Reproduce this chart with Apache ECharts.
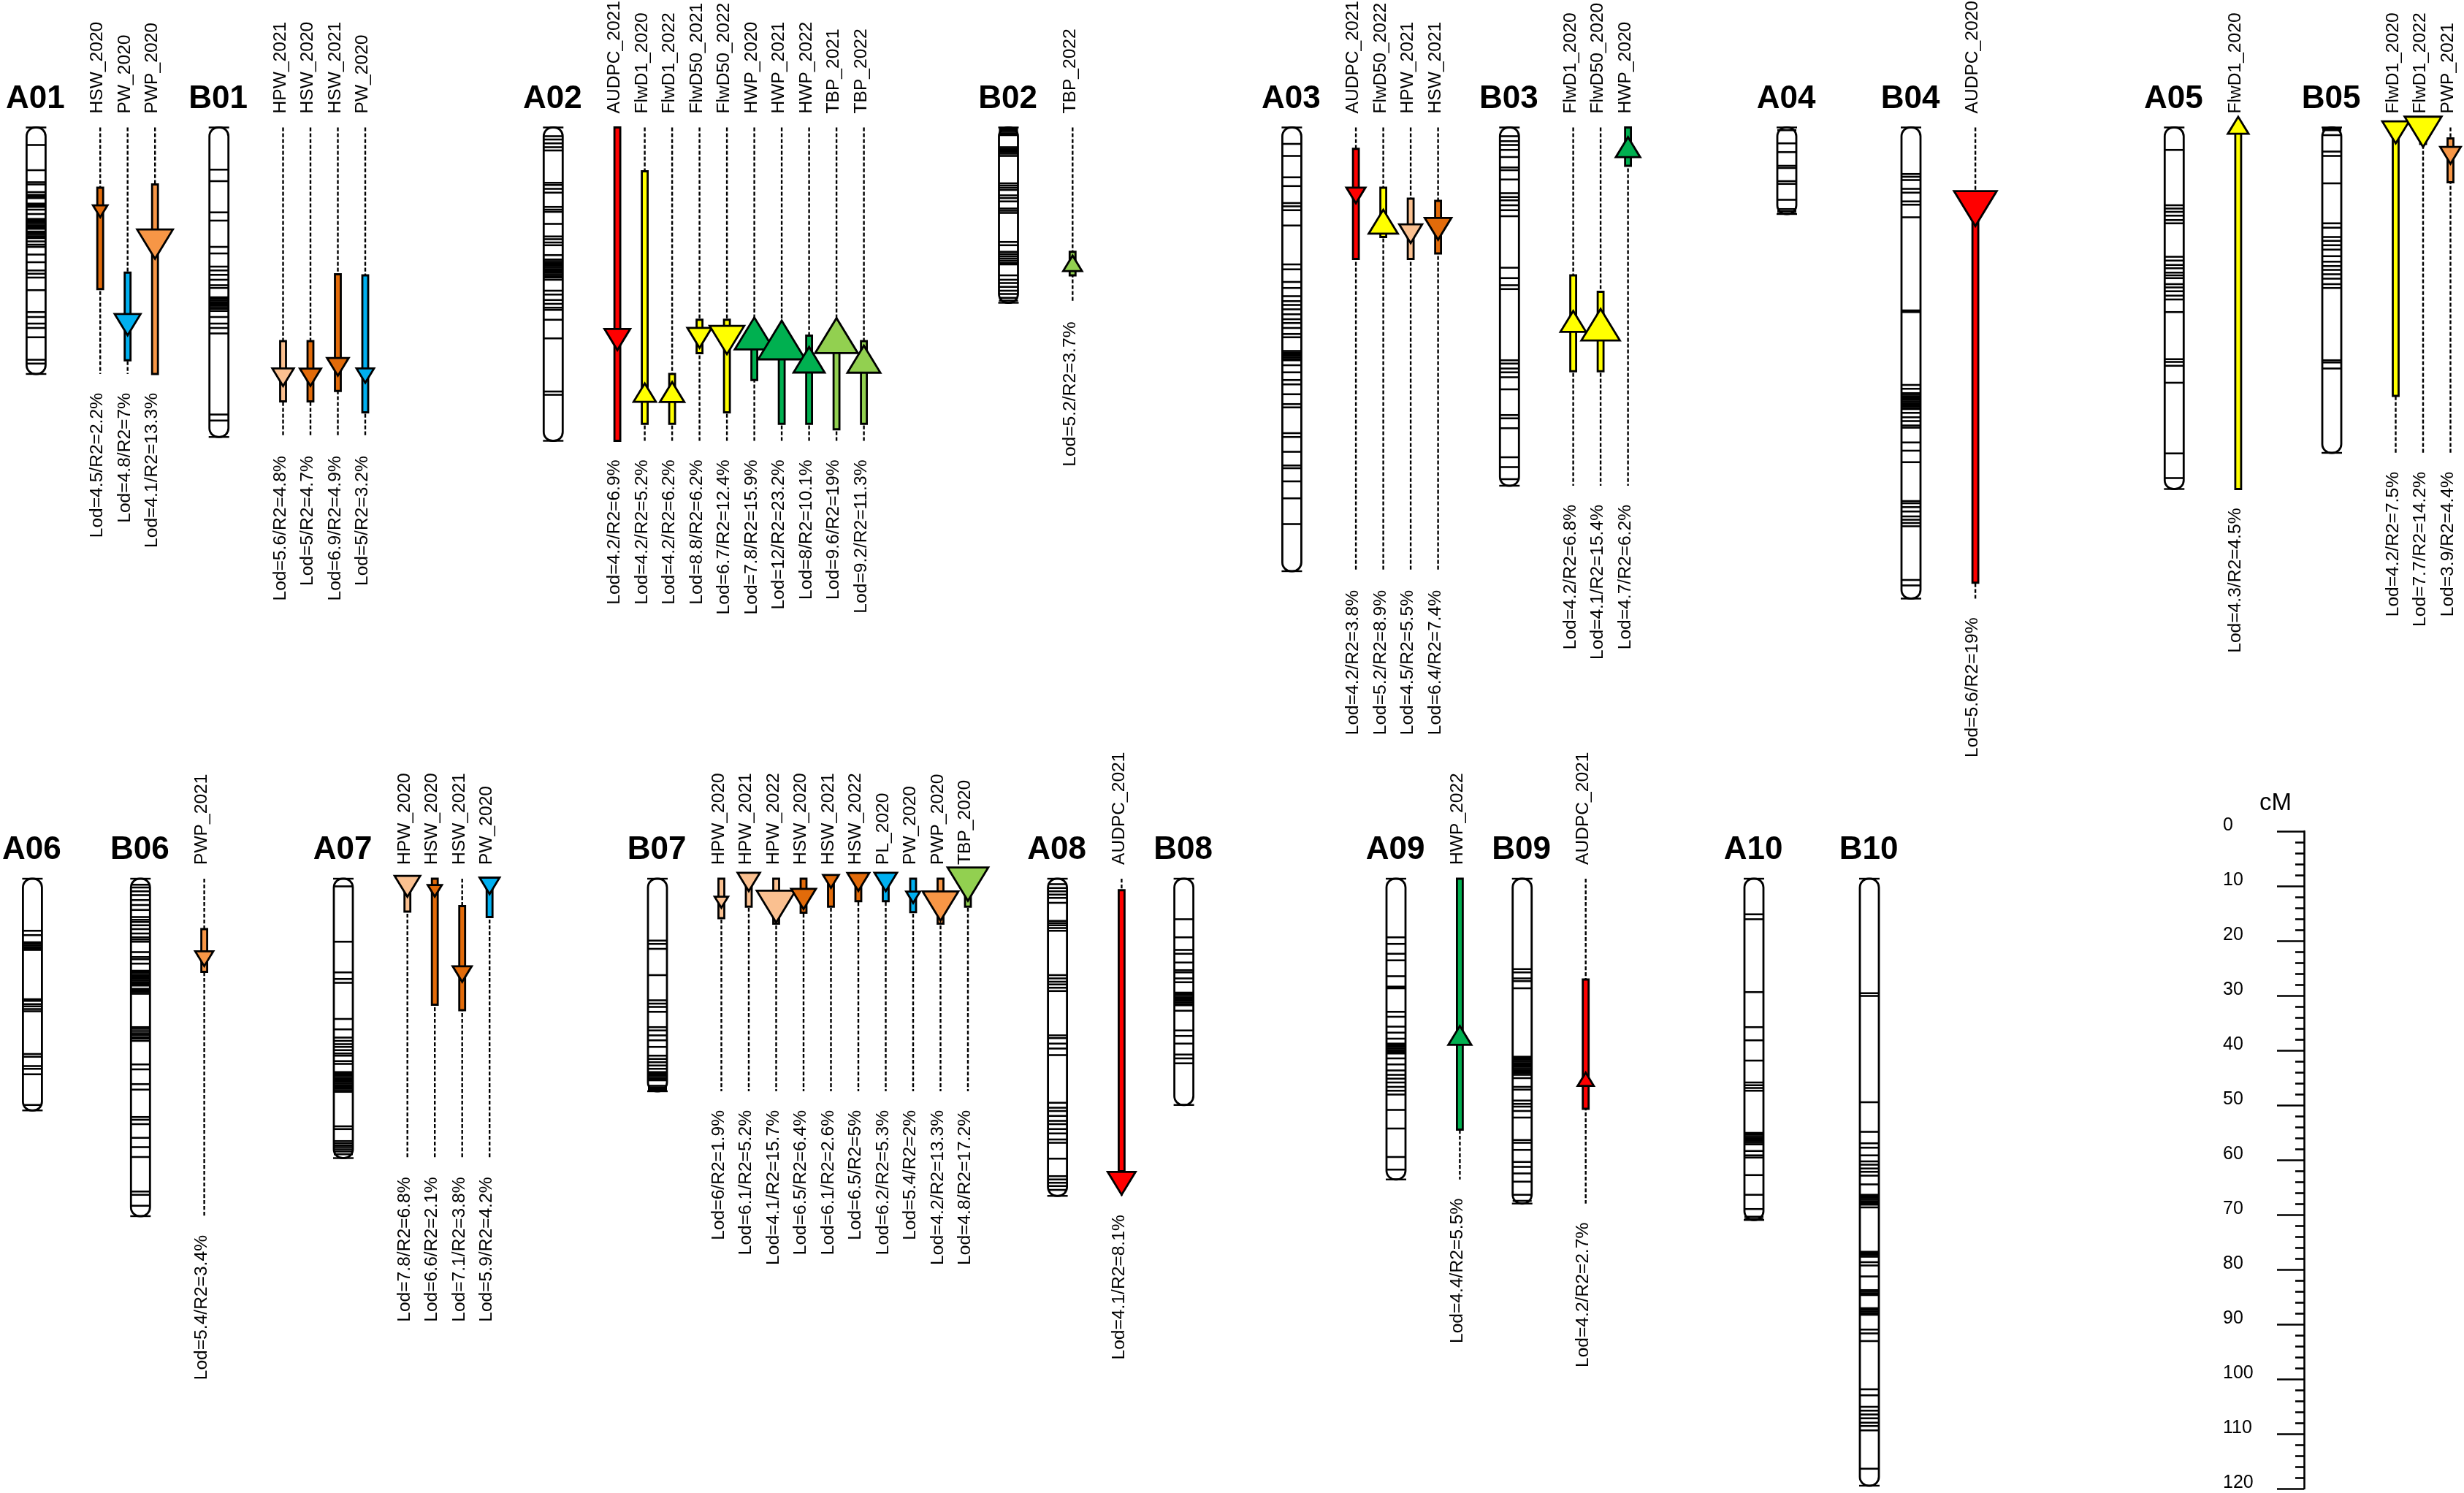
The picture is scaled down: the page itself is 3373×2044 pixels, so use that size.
<!DOCTYPE html>
<html>
<head>
<meta charset="utf-8">
<title>QTL map</title>
<style>
html, body { margin: 0; padding: 0; background: #fff; }
#chart { width: 3373px; height: 2044px; }
</style>
<script src="https://cdn.jsdelivr.net/npm/echarts@6/dist/echarts.min.js"></script>
</head>
<body>
<div id="chart"></div>
<script>
// chromosomes, first ten on the upper row, the rest on the lower row
var chromNames = ['A01','B01','A02','B02','A03','B03','A04','B04','A05','B05',
                  'A06','B06','A07','B07','A08','B08','A09','B09','A10','B10'];
var chromLengths = [45,56.5,57.2,32,81,65.4,15.8,86,66,59.4,
                    42.3,61.6,51,38.8,57.9,41.3,54.9,59.3,62.3,110.8];

// marker positions (cM)
var markersA01 = [3.2,7.8,10,10.4,11.8,12.3,12.6,12.9,13.9,14.2,14.5,15,15.8,16.7,17,17.3,17.6,17.9,18.2,18.5,19,19.3,19.6,19.9,20.2,20.8,21.4,21.8,23.2,24.6,26.1,26.7,27.4,29.7,33.7,34.6,35.8,36.6,38.3,42.4,43.1];
var markersB01 = [7.7,9.8,15.5,17,21.8,23,25.4,26.1,26.9,27.8,28.8,29.3,31,31.3,31.6,31.9,32.2,32.5,32.8,33.1,33.5,34.6,35.8,36.6,37.6,52.4,53.5];
var markersA02 = [1.6,2.2,2.9,3.6,4.2,10.1,10.5,11.2,11.9,14.5,15,15.4,17.6,19.9,20.4,21,21.5,23.3,24.1,24.4,24.7,25,25.3,25.6,25.9,26.2,26.5,26.8,27.1,27.4,27.8,29.8,30.5,31.5,32.2,32.9,33.3,35.1,38.5,48.2,48.8];
var markersB02 = [0.2,0.5,0.8,1.1,1.4,3.6,3.9,4.2,4.5,4.8,5.2,10.2,10.6,11,11.4,12.4,12.9,13.5,14.8,15.2,15.6,20.9,21.5,22.7,23.1,23.5,23.9,24.3,24.7,25,27,27.8,28.4,29.1,29.8,30.4,31.1,31.6];
var markersA03 = [3,5.2,9.1,10.7,13.8,14.4,15.1,17.9,25,25.9,28.2,29.3,30.8,31.7,32.4,33.2,34.1,35,35.7,36.6,37.7,38.3,40.8,41.1,41.4,41.7,42,42.3,42.5,43.4,44.7,46.1,46.9,48.7,50.5,51.1,55.8,56.5,59.2,61.7,62.2,64.6,67.7,72.4];
var markersB03 = [1.6,2.5,3.2,4.1,5.4,7.3,7.8,9.5,12,12.7,13.3,14.2,15.1,16.2,25.6,27.5,28.8,29.5,42.5,43.1,44,44.7,45.6,47.8,52.5,53.1,54.9,60.2,62,64.2];
var markersA04 = [0.5,2.9,4.5,7,7.4,9.8,10.3,13.2,14.9,15.3,15.7];
var markersB04 = [8.5,9,9.6,11.2,11.9,13.5,14.1,16.4,33.4,33.7,47,47.7,48.5,48.8,49.1,49.4,49.7,50,50.3,50.6,50.9,51.2,51.4,52.1,52.9,53.6,54.4,54.8,57.5,59,61.1,68.2,68.6,69.3,70.1,71,71.6,72.2,72.8,82.6,83.6];
var markersA05 = [4.1,14.2,14.8,15.4,16.1,16.9,17.5,23.6,24.3,25.1,25.7,26.5,27,27.5,28.6,29.2,29.9,30.7,31.4,33.7,42.3,42.8,43.5,46.6,59.5,64];
var markersB05 = [0.2,0.5,1.4,4.4,5.2,10.2,17.5,18.3,20,20.7,21.5,22.3,23.5,24.5,25.3,26,26.8,27.6,28.6,29.3,42.5,42.9,44];
var markersA06 = [9.5,10.3,11.6,11.9,12.2,12.5,12.8,13,22,22.3,22.9,23.3,23.8,24.2,32,32.5,34.2,34.7,35.7,41.3];
var markersB06 = [1.1,1.6,2.3,3,3.9,4.8,5.7,7,7.5,7.9,8.5,9.2,10,10.7,11.1,11.5,13.4,14.3,14.7,15.5,16.8,17.1,17.4,17.7,18,18.3,18.6,18.9,19.2,19.5,20.1,20.4,20.7,21,27.1,27.4,27.8,28.2,28.5,28.9,29.2,29.6,33.9,34.8,37.5,38.5,43.5,44,44.8,47.3,49,50.8,57.1,57.7,59.7];
var markersA07 = [1.4,11.5,17.1,18.3,19,25.6,27.5,29,29.6,30.2,30.7,31.3,31.9,32.3,33.3,33.8,35.3,35.6,35.9,36.2,36.5,36.8,37.1,37.4,37.7,38,38.3,38.6,38.9,45.2,45.7,47.9,48.3,48.7,49,49.4,49.8,50.3];
var markersB07 = [11.3,11.9,12.8,17.6,22.2,22.8,23.4,24.3,27.1,27.7,28.6,29.5,30.7,32.3,32.9,33.5,34.1,34.7,35.3,35.6,35.9,36.2,36.5,36.8,37.8,38.1,38.4,38.7];
var markersA08 = [1,1.7,2.3,2.9,3.5,4.4,7.7,8.1,8.5,9,9.5,17.6,18.2,18.8,19.3,19.9,20.5,28.6,29.1,30.1,31,32.2,40.9,41.8,42.4,43.3,44.2,44.8,45.7,46.5,47.6,48.2,51.1,54.3,54.9,55.5,56.1,56.8];
var markersB08 = [7.4,10.7,13,13.7,15.3,16.7,17.1,18.2,18.9,20.8,21.1,21.4,21.7,22,22.3,22.6,22.9,23.1,24.1,27.7,28.7,30.1,32.1,32.8,33.7];
var markersA09 = [10.7,11.9,13.7,14.9,17.8,19.7,20,24.3,25.2,27,28.1,29.2,30.1,30.4,30.7,31,31.3,31.6,31.9,32.8,33.9,35,35.8,36.5,37.2,38,38.7,39.4,42.2,45.6,50.8,53.1];
var markersB09 = [16.5,17.1,18.2,18.7,20,32.5,32.8,33.1,33.4,33.7,34,34.3,34.6,34.9,35.2,35.5,35.8,36.4,38,38.5,40.5,41.1,41.6,42.4,43.6,47.7,48.2,49.5,51.7,52.6,53.8,55.3,57.7,58.8];
var markersA10 = [6.5,7.4,20.7,27.1,29.5,33.2,37.2,37.7,38.2,38.7,46.4,46.7,47,47.3,47.6,47.9,48.2,48.5,49.7,50.5,50.9,54.1,57.7,60.3,61.7,62.1];
var markersB10 = [20.9,21.4,40.8,46.2,48.3,49.1,50.5,51.6,52.2,52.9,53.5,54.2,55.8,57.7,58,58.3,58.6,58.9,59.2,59.5,60,68.1,68.4,68.7,69,70,70.6,72.6,75.1,75.4,75.7,76,78.4,78.7,79,79.3,79.6,82.3,83,84.4,93.2,94.3,96.4,97.1,97.8,98.5,99.3,99.9,100.7,107.7];

// QTL rows: trait, interval start, interval end, peak, direction (1 up, -1 down), LOD, R2
var qtlA01 = [['HSW_2020',11,29.5,15.3,-1,4.5,2.2],['PW_2020',26.5,42.5,36,-1,4.8,7],['PWP_2020',10.4,45,21.3,-1,4.1,13.3]];
var qtlB01 = [['HPW_2021',39,50,45.6,-1,5.6,4.8],['HSW_2020',39,50,45.6,-1,5,4.7],['HSW_2021',26.8,48.1,43.7,-1,6.9,4.9],['PW_2020',27,52,45.3,-1,5,3.2]];
var qtlA02 = [['AUDPC_2021',0,57.2,38.7,-1,4.2,6.9],['FlwD1_2020',8,54.1,48.4,1,4.2,5.2],['FlwD1_2022',45,54.1,48.3,1,4.2,6.2],
              ['FlwD50_2021',35.1,41.2,38.4,-1,8.8,6.2],['FlwD50_2022',35.1,52,38.8,-1,6.7,12.4],['HWP_2020',37,46.1,37.6,1,7.8,15.9],
              ['HWP_2021',38,54.1,38.8,1,12,23.2],['HWP_2022',38,54.1,42.4,1,8,10.1],['TBP_2021',37,55.1,38,1,9.6,19],['TBP_2022',39,54.1,42.3,1,9.2,11.3]];
var qtlB02 = [['TBP_2022',22.7,27,24.8,1,5.2,3.7]];
var qtlA03 = [['AUDPC_2021',3.9,24,12.4,-1,4.2,3.8],['FlwD50_2022',11,20,17.2,1,5.2,8.9],['HPW_2021',13,24,19.4,-1,4.5,5.5],['HSW_2021',13.4,23,18.5,-1,6.4,7.4]];
var qtlB03 = [['FlwD1_2020',27,44.5,35.4,1,4.2,6.8],['FlwD50_2020',30,44.5,36,1,4.1,15.4],['HWP_2020',0,7,3.6,1,4.7,6.2]];
var qtlB04 = [['AUDPC_2020',13,83.1,14.8,-1,5.6,19]];
var qtlA05 = [['FlwD1_2020',0,66,-0.4,1,4.3,4.5]];
var qtlB05 = [['FlwD1_2020',0,49,0.9,-1,4.2,7.5],['FlwD1_2022',0,3,0.8,-1,7.7,14.2],['PWP_2021',2,10,5.1,-1,3.9,4.4]];
var qtlB06 = [['PWP_2021',9.2,17,14.6,-1,5.4,3.4]];
var qtlA07 = [['HPW_2020',0,6,1.4,-1,7.8,6.8],['HSW_2020',0,23,2.2,-1,6.6,2.1],['HSW_2021',5,24,17.4,-1,7.1,3.8],['PW_2020',0,7,1.3,-1,5.9,4.2]];
var qtlB07 = [['HPW_2020',0,7.2,4.3,-1,6,1.9],['HPW_2021',0,5.1,0.6,-1,6.1,5.2],['HPW_2022',0,8.2,5.1,-1,4.1,15.7],['HSW_2020',0,6.2,3.7,-1,6.5,6.4],
              ['HSW_2021',0,5.1,0.5,-1,6.1,2.6],['HSW_2022',0,4.1,0.6,-1,6.5,5],['PL_2020',0,4.1,0.6,-1,6.2,5.3],['PW_2020',0,6.1,3.4,-1,5.4,2],
              ['PWP_2020',0,8.2,5,-1,4.2,13.3],['TBP_2020',0,5.1,1,-1,4.8,17.2]];
var qtlA08 = [['AUDPC_2021',2.1,53.4,55.6,-1,4.1,8.1]];
var qtlA09 = [['HWP_2022',0,45.8,28.6,1,4.4,5.5]];
var qtlB09 = [['AUDPC_2021',18.4,42,36.6,1,4.2,2.7]];

// ruler
var rulerMax = 120;
var rulerStep = 10;
var rulerMinorParts = 5;

// layout, pixels on the page
var chromX = [49.4,299.7,757.3,1380.5,1768.4,2066.3,2446,2616,2976.3,3192,
              44.4,192.3,470,900,1447.6,1620.6,1911,2083.7,2401,2559];
var trackFirstX = {A01:137.2,B01:387.5,A02:845.1,B02:1468.3,A03:1856.1,B03:2153.6,B04:2704.1,A05:3063.9,B05:3279.5,
                   B06:279.6,A07:557.7,B07:987.5,A08:1535.4,A09:1998.4,B09:2170.7};
var trackStep = 37.5;

var traitColors = {
	AUDPC: '#FF0000', FlwD1: '#FFFF00', FlwD50: '#FFFF00', HPW: '#FAC090', HSW: '#E26B0A',
	PW: '#00B0F0', PL: '#00B0F0', PWP: '#F79646', HWP: '#00B050', TBP: '#92D050'
};

var markers = [markersA01,markersB01,markersA02,markersB02,markersA03,markersB03,markersA04,markersB04,markersA05,markersB05,
               markersA06,markersB06,markersA07,markersB07,markersA08,markersB08,markersA09,markersB09,markersA10,markersB10];
var qtls = {A01:qtlA01,B01:qtlB01,A02:qtlA02,B02:qtlB02,A03:qtlA03,B03:qtlB03,B04:qtlB04,A05:qtlA05,B05:qtlB05,
            B06:qtlB06,A07:qtlA07,B07:qtlB07,A08:qtlA08,A09:qtlA09,B09:qtlB09};

var FONT = '"Liberation Sans", Arial, sans-serif';
var CHROM_W = 26;
var STROKE = 2.8;

function lineEl(x1, y1, x2, y2, width, dash) {
	return {
		type: 'line',
		shape: { x1: x1, y1: y1, x2: x2, y2: y2 },
		style: { stroke: '#000', lineWidth: width, lineDash: dash || null, fill: null }
	};
}

function verticalText(text, x, y, align) {
	return {
		type: 'text',
		x: x,
		y: y,
		rotation: Math.PI / 2,
		style: { text: text, fontSize: 24.6, fontFamily: FONT, fill: '#000', align: align, verticalAlign: 'middle' }
	};
}

// one chromosome: name, markers, outline
function renderChrom(params, api) {
	var idx = api.value(0);
	var cx = chromX[idx];
	var top = api.coord([cx, 0])[1];
	var bottom = api.coord([cx, chromLengths[idx]])[1];
	var left = cx - CHROM_W / 2;
	var right = cx + CHROM_W / 2;
	var children = [];

	children.push({
		type: 'text',
		x: cx - 1,
		y: top - 17,
		style: { text: chromNames[idx], fontSize: 44, fontWeight: 'bold', fontFamily: FONT, fill: '#000', align: 'center', verticalAlign: 'bottom' }
	});
	children.push({
		type: 'rect',
		shape: { x: left, y: top, width: CHROM_W, height: bottom - top, r: 12 },
		style: { fill: '#fff', stroke: null }
	});
	markers[idx].forEach(function (m) {
		var y = api.coord([cx, m])[1];
		children.push(lineEl(left, y, right, y, 2.6));
	});
	children.push({
		type: 'rect',
		shape: { x: left, y: top, width: CHROM_W, height: bottom - top, r: 12 },
		style: { fill: null, stroke: '#000', lineWidth: STROKE }
	});
	children.push(lineEl(left - 1, top, right + 1, top, 2.4));
	children.push(lineEl(left - 1, bottom, right + 1, bottom, 2.4));
	return { type: 'group', children: children };
}

// one QTL track: trait name, dashed line, interval bar, peak triangle, LOD text
function renderQtl(params, api) {
	var chromIdx = api.value(0);
	var i = api.value(1);
	var name = chromNames[chromIdx];
	var q = qtls[name][i];
	var x = trackFirstX[name] + i * trackStep;
	var y0 = api.coord([x, 0])[1];
	var yEnd = api.coord([x, chromLengths[chromIdx]])[1];
	var barTop = api.coord([x, q[1]])[1];
	var barBottom = api.coord([x, q[2]])[1];
	var peak = api.coord([x, q[3]])[1];
	var color = traitColors[q[0].split('_')[0]];
	// triangle size follows R2
	var h = 11 * Math.sqrt(q[6]);
	var w = 1.22 * h;
	var tipY = peak - q[4] * (h / 2);
	var baseY = peak + q[4] * (h / 2);

	return {
		type: 'group',
		children: [
			verticalText(q[0], x - 3.5, y0 - 19, 'left'),
			verticalText('Lod=' + q[5] + '/R2=' + q[6] + '%', x - 3.5, yEnd + 26, 'right'),
			lineEl(x, y0, x, yEnd, 2.4, [5.3, 2.7]),
			{
				type: 'rect',
				shape: { x: x - 4, y: barTop, width: 8, height: barBottom - barTop },
				style: { fill: color, stroke: '#000', lineWidth: STROKE }
			},
			{
				type: 'polygon',
				shape: { points: [[x - w / 2, baseY], [x + w / 2, baseY], [x, tipY]] },
				style: { fill: color, stroke: '#000', lineWidth: STROKE, lineJoin: 'miter' }
			}
		]
	};
}

function chromData(row) {
	var out = [];
	chromNames.forEach(function (n, i) {
		if ((i < 10 ? 0 : 1) === row) { out.push([i]); }
	});
	return out;
}

function qtlData(row) {
	var out = [];
	chromNames.forEach(function (n, i) {
		if ((i < 10 ? 0 : 1) === row && qtls[n]) {
			qtls[n].forEach(function (q, j) { out.push([i, j]); });
		}
	});
	return out;
}

var hiddenX = { type: 'value', min: 0, max: 3373, show: false };

var myChart = echarts.init(document.getElementById('chart'));
myChart.setOption({
	animation: false,
	backgroundColor: '#fff',
	grid: [
		{ left: 0, top: 174.5, width: 3373, height: 675 },
		{ left: 0, top: 1203, width: 3373, height: 840 },
		{ left: 3154, top: 1138, width: 100, height: 900 }
	],
	xAxis: [
		Object.assign({ gridIndex: 0 }, hiddenX),
		Object.assign({ gridIndex: 1 }, hiddenX),
		Object.assign({ gridIndex: 2 }, hiddenX)
	],
	yAxis: [
		{ gridIndex: 0, type: 'value', inverse: true, min: 0, max: 90, show: false },
		{ gridIndex: 1, type: 'value', inverse: true, min: 0, max: 112, show: false },
		{
			gridIndex: 2, type: 'value', inverse: true, min: 0, max: rulerMax, interval: rulerStep,
			position: 'left',
			name: 'cM',
			nameLocation: 'start',
			nameGap: 22,
			nameTextStyle: { fontSize: 33, fontFamily: FONT, color: '#000', align: 'center', padding: [0, 0, 0, -78] },
			axisLine: { show: true, onZero: false, lineStyle: { color: '#000', width: 2.6 } },
			axisTick: { show: true, length: 37, lineStyle: { color: '#000', width: 2.6 } },
			minorTick: { show: true, splitNumber: rulerMinorParts, length: 12, lineStyle: { color: '#000', width: 2.6 } },
			axisLabel: { show: true, align: 'left', margin: 111, fontSize: 25, fontFamily: FONT, color: '#000', verticalAlign: 'bottom', lineHeight: 16 },
			splitLine: { show: false }
		}
	],
	series: [
		{ type: 'custom', coordinateSystem: 'cartesian2d', xAxisIndex: 0, yAxisIndex: 0, silent: true, renderItem: renderChrom, data: chromData(0) },
		{ type: 'custom', coordinateSystem: 'cartesian2d', xAxisIndex: 1, yAxisIndex: 1, silent: true, renderItem: renderChrom, data: chromData(1) },
		{ type: 'custom', coordinateSystem: 'cartesian2d', xAxisIndex: 0, yAxisIndex: 0, silent: true, renderItem: renderQtl, data: qtlData(0) },
		{ type: 'custom', coordinateSystem: 'cartesian2d', xAxisIndex: 1, yAxisIndex: 1, silent: true, renderItem: renderQtl, data: qtlData(1) }
	]
});
</script>
</body>
</html>
